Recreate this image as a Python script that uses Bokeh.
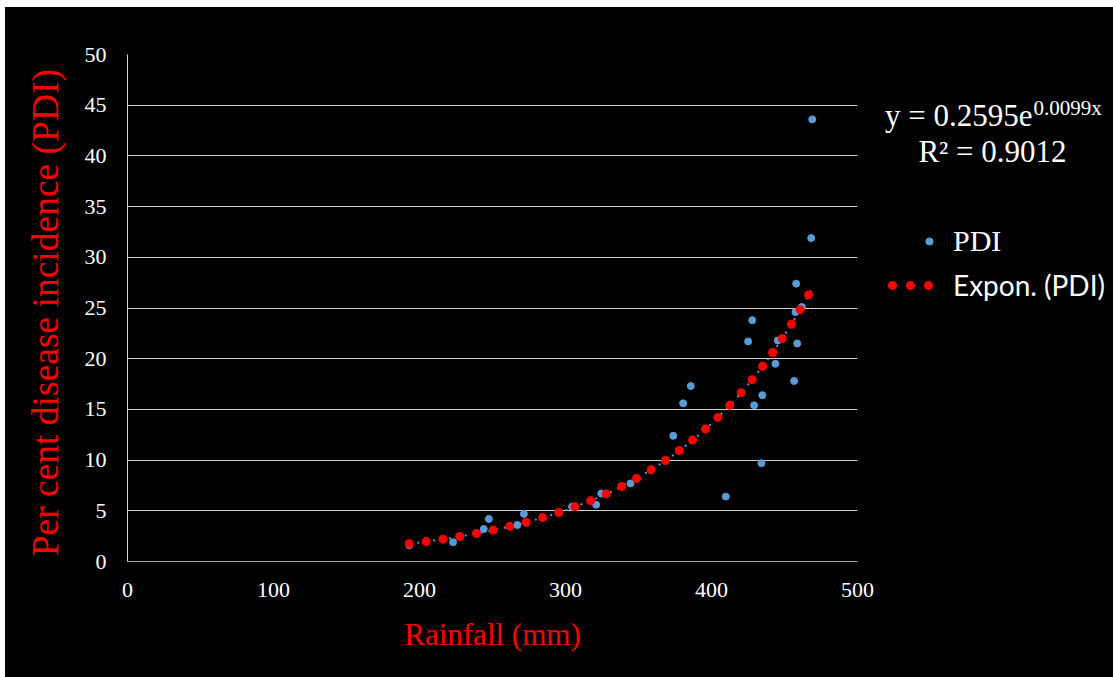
import numpy as np
from bokeh.plotting import figure
from bokeh.layouts import row
from bokeh.models import Legend, LegendItem, Label, Range1d, FixedTicker
from bokeh.embed import file_html
from bokeh.resources import INLINE

# ---- data ----
rainfall = [193, 223, 244, 247.5, 267, 271.5, 304.5, 321, 324.5, 344.5,
            373.8, 380.6, 385.8, 409.8, 425.1, 427.9, 429.2, 434.2, 434.8,
            443.8, 445.4, 456.6, 457.5, 458.0, 458.7, 461.9, 468.3, 469.0]
pdi = [1.6, 1.9, 3.2, 4.2, 3.6, 4.7, 5.4, 5.6, 6.7, 7.7,
       12.4, 15.6, 17.3, 6.4, 21.7, 23.8, 15.4, 9.7, 16.4,
       19.5, 21.8, 17.8, 24.6, 27.4, 21.5, 25.1, 31.9, 43.6]
fit_a = 0.2595
fit_b = 0.0099
r_squared = 0.9012
x_ticks = [0, 100, 200, 300, 400, 500]
y_ticks = [0, 5, 10, 15, 20, 25, 30, 35, 40, 45, 50]

BLUE = "#5B9BD5"
RED = "#FF0000"
SERIF = "Liberation Serif"

p = figure(width=877, height=670, output_backend="svg", toolbar_location=None,
           x_range=Range1d(0, 500), y_range=Range1d(0, 50),
           background_fill_color="black", border_fill_color="black",
           min_border_left=122, min_border_right=25,
           min_border_top=47, min_border_bottom=116,
           margin=(7, 0, 0, 5), styles={"background-color": "black"})
p.outline_line_color = None
p.frame_align = False

# axes
p.xaxis.ticker = FixedTicker(ticks=x_ticks)
p.yaxis.ticker = FixedTicker(ticks=y_ticks)
for ax in (p.xaxis, p.yaxis):
    ax.major_tick_line_color = None
    ax.minor_tick_line_color = None
    ax.major_tick_out = 0
    ax.major_tick_in = 0
    ax.major_label_text_color = "white"
    ax.major_label_text_font = SERIF
    ax.major_label_text_font_size = "22px"
    ax.axis_label_text_color = RED
    ax.axis_label_text_font = SERIF
    ax.axis_label_text_font_style = "normal"
p.xaxis.axis_label_text_font_size = "31px"
p.yaxis.axis_label_text_font_size = "37.5px"
p.xaxis.axis_line_color = "#A6A6A6"
p.yaxis.axis_line_color = "#D9D9D9"
p.xaxis.major_label_standoff = 21
p.yaxis.major_label_standoff = 21
p.xaxis.axis_label = "Rainfall (mm)"
p.yaxis.axis_label = "Per cent disease incidence  (PDI)"
p.xaxis.axis_label_standoff = 17
p.yaxis.axis_label_standoff = 16

p.xgrid.grid_line_color = None
p.ygrid.grid_line_color = "#D0D0D0"
p.ygrid.grid_line_width = 1

# data points
pts = p.scatter(rainfall, pdi, size=7, color=BLUE)

# exponential trendline
xs = np.linspace(min(rainfall), max(rainfall), 400)
ys = fit_a * np.exp(fit_b * xs)
p.line(xs, ys, line_color=BLUE, line_width=2, line_dash="2 6")
trend = p.line(xs, ys, line_color=RED, line_width=9, line_dash="0 17",
               line_cap="round")

# ---- side panel: trendline equation and legend ----
side = figure(width=231, height=670, output_backend="svg", toolbar_location=None,
              x_range=Range1d(0, 231), y_range=Range1d(0, 670),
              background_fill_color="black", border_fill_color="black",
              min_border=0, x_axis_location=None, y_axis_location=None,
              margin=(7, 0, 0, 0), styles={"background-color": "black"})
side.outline_line_color = None
side.grid.visible = False
side.frame_align = False

nan = np.array([np.nan])
pts_key = side.scatter(nan, nan, size=7, color=BLUE)
trend_key = side.line(nan, nan, line_color=RED, line_width=9, line_dash="0 18",
                      line_dash_offset=14, line_cap="round")

leg1 = Legend(items=[LegendItem(label="PDI", renderers=[pts_key])],
              location=(38, 419), glyph_width=18, glyph_height=18,
              label_standoff=15, padding=0, margin=0, spacing=0,
              background_fill_alpha=0, border_line_alpha=0,
              label_text_color="white", label_text_font=SERIF,
              label_text_font_size="30px")
leg2 = Legend(items=[LegendItem(label="Expon. (PDI)", renderers=[trend_key])],
              location=(6, 375), glyph_width=45, glyph_height=18,
              label_standoff=20, padding=0, margin=0, spacing=0,
              background_fill_alpha=0, border_line_alpha=0,
              label_text_color="white", label_text_font="Lato",
              label_text_font_size="28px")
side.add_layout(leg1, "center")
side.add_layout(leg2, "center")

side.add_layout(Label(x=150, y=562, x_units="screen", y_units="screen",
                      text="y = %.4fe" % fit_a, text_color="white",
                      text_font=SERIF, text_font_size="31px",
                      text_align="right", text_baseline="alphabetic"))
side.add_layout(Label(x=151, y=570, x_units="screen", y_units="screen",
                      text="%.4fx" % fit_b, text_color="white",
                      text_font=SERIF, text_font_size="21px",
                      text_baseline="alphabetic"))
side.add_layout(Label(x=110, y=526, x_units="screen", y_units="screen",
                      text="R² = %.4f" % r_squared, text_color="white",
                      text_font=SERIF, text_font_size="31px",
                      text_align="center", text_baseline="alphabetic"))

layout = row(p, side, spacing=0)
open("out.html", "w").write(file_html(layout, INLINE))
